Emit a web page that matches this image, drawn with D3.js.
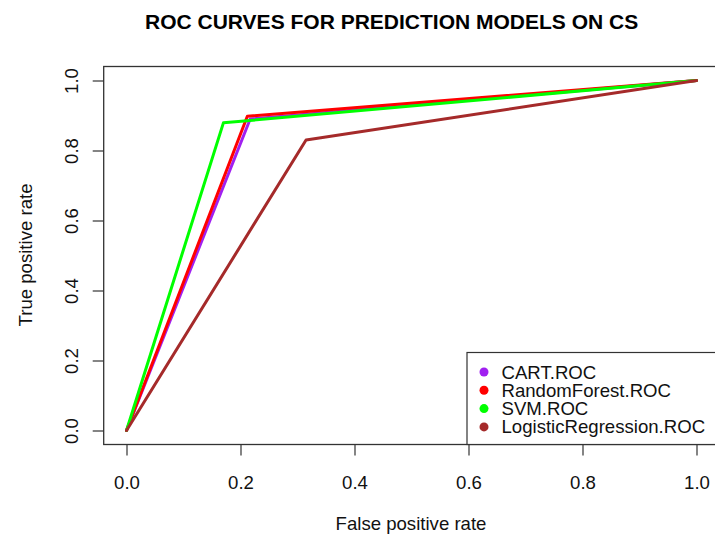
<!DOCTYPE html>
<html><head><meta charset="utf-8">
<script src="https://cdn.jsdelivr.net/npm/d3@7"></script>
<style>body{margin:0;background:#fff}svg{display:block;font-family:"Liberation Sans",Arial,sans-serif}</style>
</head><body>
<script>
const seriesNames = ["CART.ROC","RandomForest.ROC","SVM.ROC","LogisticRegression.ROC"];
const seriesColors = ["#A020F0","#FF0000","#00FF00","#A52A2A"];
const cartFPR = [0, 0.217, 1];
const cartTPR = [0, 0.890, 1];
const rfFPR = [0, 0.212, 1];
const rfTPR = [0, 0.898, 1];
const svmFPR = [0, 0.170, 1];
const svmTPR = [0, 0.879, 1];
const lrFPR = [0, 0.315, 1];
const lrTPR = [0, 0.830, 1];
const tickValues = [0, 0.2, 0.4, 0.6, 0.8, 1.0];
const titleText = "ROC CURVES FOR PREDICTION MODELS ON CS";
const xLabel = "False positive rate";
const yLabel = "True positive rate";

const W = 715, H = 543;
const FS = 18.6;
const svg = d3.select("body").append("svg").attr("width", W).attr("height", H);
const x = d3.scaleLinear().domain([0,1]).range([126.5, 696.5]);
const y = d3.scaleLinear().domain([0,1]).range([430.5, 80.5]);
const box = {l: x(-0.04), r: x(1.04), t: y(1.04), b: y(-0.04)};

const series = [
  {name: seriesNames[0], fx: cartFPR, ty: cartTPR},
  {name: seriesNames[1], fx: rfFPR, ty: rfTPR},
  {name: seriesNames[2], fx: svmFPR, ty: svmTPR},
  {name: seriesNames[3], fx: lrFPR, ty: lrTPR}
];
const line = d3.line().x(d => x(d[0])).y(d => y(d[1]));
series.forEach((s, i) => {
  svg.append("path").attr("d", line(s.fx.map((v, j) => [v, s.ty[j]])))
    .attr("fill","none").attr("stroke", seriesColors[i]).attr("stroke-width", 3)
    .attr("stroke-linejoin","round").attr("stroke-linecap","round");
});

// box
svg.append("rect").attr("x", box.l).attr("y", box.t).attr("width", box.r - box.l).attr("height", box.b - box.t)
  .attr("fill","none").attr("stroke","#333").attr("stroke-width",1.3);

// axes
const xAxis = d3.axisBottom(x).tickValues(tickValues).tickFormat(d3.format(".1f")).tickSize(11).tickPadding(20);
const gx = svg.append("g").attr("transform", `translate(0,${box.b})`).call(xAxis);
gx.select(".domain").remove();
gx.selectAll("line").attr("stroke","#333").attr("stroke-width",1.2);
gx.selectAll("text").attr("font-size", FS).attr("fill","#111").attr("font-family","Liberation Sans, Arial, sans-serif");

const yAxis = d3.axisLeft(y).tickValues(tickValues).tickFormat(d3.format(".1f")).tickSize(11).tickPadding(0);
const gy = svg.append("g").attr("transform", `translate(${box.l},0)`).call(yAxis);
gy.select(".domain").remove();
gy.selectAll("line").attr("stroke","#333").attr("stroke-width",1.2);
gy.selectAll("text").attr("font-size", FS).attr("fill","#111").attr("font-family","Liberation Sans, Arial, sans-serif")
  .attr("x", 0).attr("y", 0).attr("dy", null).attr("text-anchor","middle")
  .attr("transform", `translate(${78 - box.l},0) rotate(-90)`);

// titles
svg.append("text").attr("x", 145).attr("y", 28.5).attr("text-anchor","start")
  .attr("font-size", 21).attr("font-weight","bold").attr("fill","#000").text(titleText);
svg.append("text").attr("x", 411).attr("y", 530).attr("text-anchor","middle")
  .attr("font-size", FS).attr("fill","#111").text(xLabel);
svg.append("text").attr("transform", `translate(31.5,255) rotate(-90)`).attr("text-anchor","middle")
  .attr("font-size", FS).attr("fill","#111").text(yLabel);

// legend
const lg = svg.append("g");
lg.append("rect").attr("x", 467).attr("y", 352.5).attr("width", 300).attr("height", box.b - 352.5)
  .attr("fill","#fff").attr("stroke","#333").attr("stroke-width",1.2);
series.forEach((s, i) => {
  const cy = 372 + i * 18.3;
  lg.append("circle").attr("cx", 484).attr("cy", cy).attr("r", 4.5).attr("fill", seriesColors[i]);
  lg.append("text").attr("x", 501.5).attr("y", cy + 6.5).attr("font-size", FS).attr("fill","#111").text(s.name);
});
</script>
</body></html>
